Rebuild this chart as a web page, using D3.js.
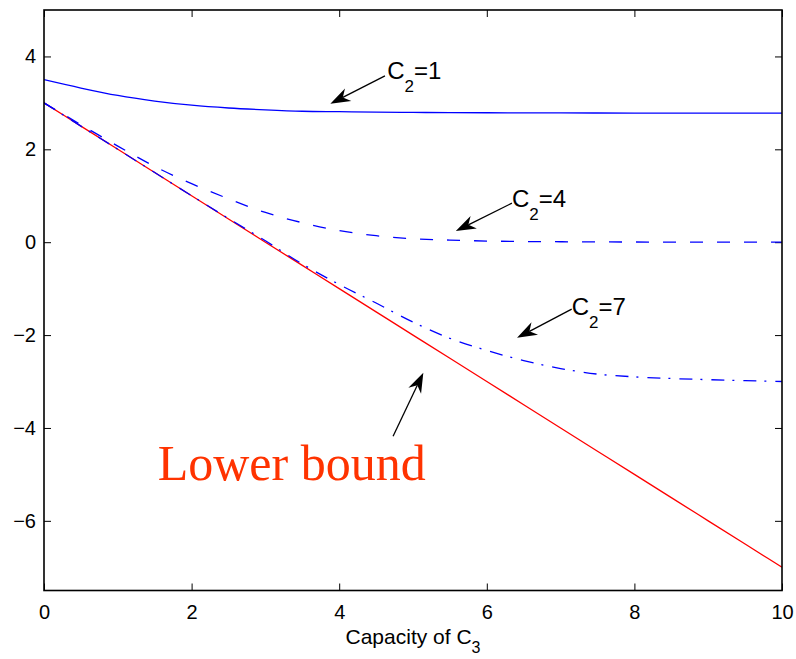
<!DOCTYPE html>
<html><head><meta charset="utf-8">
<script src="https://cdn.jsdelivr.net/npm/d3@7"></script>
<style>
body{margin:0;background:#fff;}
svg{display:block;}
</style></head>
<body>
<svg id="chart" width="796" height="659"></svg>
<script>
// ---- data ----
const xValues = [0,0.5,1,1.5,2,2.5,3,3.5,4,4.5,5,5.5,6,6.5,7,7.5,8,8.5,9,9.5,10];
const c2eq1 = [3.50,3.32,3.16,3.04,2.95,2.89,2.85,2.82,2.81,2.80,2.795,2.79,2.787,2.785,2.783,2.782,2.781,2.78,2.78,2.78,2.78];
const c2eq4 = [3.00,2.53,2.07,1.63,1.26,0.935,0.64,0.42,0.25,0.14,0.075,0.045,0.025,0.015,0.01,0.006,0.004,0.002,0.001,0.0,0.0];
const c2eq7 = [3.00,2.50,2.00,1.50,1.00,0.51,0.03,-0.47,-0.91,-1.31,-1.72,-2.07,-2.33,-2.55,-2.72,-2.84,-2.90,-2.935,-2.96,-2.98,-3.00];
const lowerBound = [3,2.5,2,1.5,1,0.5,0,-0.5,-1,-1.5,-2,-2.5,-3,-3.5,-4,-4.5,-5,-5.5,-6,-6.5,-7];
const xTicks = [0,2,4,6,8,10];
const yTicks = [-6,-4,-2,0,2,4];
const xLabel = "Capacity of C";
const xLabelSub = "3";
// annotations: text anchor (data units) and arrow from -> to
const annLabels = ["=1","=4","=7"];
const annText = [[4.65,3.52],[6.34,0.75],[7.15,-1.57]];
const annArrowFrom = [[4.62,3.58],[6.34,0.84],[7.15,-1.44]];
const annArrowTo = [[3.88,2.98],[5.58,0.24],[6.41,-2.06]];
const lbText = "Lower bound";
const lbTextPos = [1.54,-5.11];
const lbArrowFrom = [4.73,-4.18];
const lbArrowTo = [5.14,-2.81];

// ---- layout ----
const L=44, T=10, R=782, B=590.5;
const svg = d3.select("#chart");
const x = d3.scaleLinear().domain([0,10]).range([L,R]);
const y = d3.scaleLinear().domain([-7.5,5]).range([B,T]);

const tickFont = "Liberation Sans, Arial, Helvetica, sans-serif";

// axes with inward ticks
function styleAxis(g){
  g.select(".domain").remove();
  g.selectAll(".tick line").attr("stroke","#000").attr("stroke-width",1);
  g.selectAll(".tick text").attr("fill","#000").style("font-family",tickFont).style("font-size","20px");
}
const fmt = d => d<0 ? "\u2212"+Math.abs(d) : String(d);
svg.append("g").attr("transform",`translate(0,${B})`)
  .call(d3.axisBottom(x).tickValues(xTicks).tickFormat(fmt).tickSizeInner(-7).tickSizeOuter(0).tickPadding(14))
  .call(styleAxis);
svg.append("g").attr("transform",`translate(0,${T})`)
  .call(d3.axisTop(x).tickValues(xTicks).tickFormat("").tickSizeInner(-7).tickSizeOuter(0))
  .call(styleAxis);
svg.append("g").attr("transform",`translate(${L},0)`)
  .call(d3.axisLeft(y).tickValues(yTicks).tickFormat(fmt).tickSizeInner(-7).tickSizeOuter(0).tickPadding(8))
  .call(styleAxis);
svg.append("g").attr("transform",`translate(${R},0)`)
  .call(d3.axisRight(y).tickValues(yTicks).tickFormat("").tickSizeInner(-7).tickSizeOuter(0))
  .call(styleAxis);

// clip
svg.append("clipPath").attr("id","clip").append("rect").attr("x",L).attr("y",T).attr("width",R-L).attr("height",B-T);

const line = vals => d3.line().x((d,i)=>x(xValues[i])).y(d=>y(d)).curve(d3.curveMonotoneX)(vals);
const plot = svg.append("g").attr("clip-path","url(#clip)");
plot.append("path").attr("d",line(lowerBound)).attr("fill","none").attr("stroke","#ff0000").attr("stroke-width",1.3);
plot.append("path").attr("d",line(c2eq1)).attr("fill","none").attr("stroke","#0000ff").attr("stroke-width",1.3);
plot.append("path").attr("d",line(c2eq4)).attr("fill","none").attr("stroke","#0000ff").attr("stroke-width",1.3).attr("stroke-dasharray","13,14");
plot.append("path").attr("d",line(c2eq7)).attr("fill","none").attr("stroke","#0000ff").attr("stroke-width",1.3).attr("stroke-dasharray","13,8,2,9");

// box
svg.append("rect").attr("x",L).attr("y",T).attr("width",R-L).attr("height",B-T)
  .attr("fill","none").attr("stroke","#000").attr("stroke-width",1.6);

// x label
const xl = svg.append("text").attr("x",(L+R)/2).attr("y",644).attr("text-anchor","middle")
  .style("font-family",tickFont).style("font-size","21px").attr("fill","#000");
xl.append("tspan").text(xLabel);
xl.append("tspan").attr("dy",9).style("font-size","16px").text(xLabelSub);

// arrows
function arrow(from,to){
  const x1=x(from[0]), y1=y(from[1]), x2=x(to[0]), y2=y(to[1]);
  const dx=x2-x1, dy=y2-y1, len=Math.hypot(dx,dy);
  const ux=dx/len, uy=dy/len, px=-uy, py=ux;
  const hl=20, hw=7, notch=14;
  svg.append("line").attr("x1",x1).attr("y1",y1).attr("x2",x2-ux*notch).attr("y2",y2-uy*notch)
    .attr("stroke","#000").attr("stroke-width",1.3);
  const pts=[[x2,y2],[x2-ux*hl+px*hw,y2-uy*hl+py*hw],[x2-ux*notch,y2-uy*notch],[x2-ux*hl-px*hw,y2-uy*hl-py*hw]];
  svg.append("path").attr("d","M"+pts.map(p=>p.join(",")).join("L")+"Z").attr("fill","#000");
}
annLabels.forEach((lab,i)=>{
  arrow(annArrowFrom[i],annArrowTo[i]);
  const t = svg.append("text").attr("x",x(annText[i][0])).attr("y",y(annText[i][1]))
    .style("font-family",tickFont).style("font-size","24px").attr("fill","#000");
  t.append("tspan").text("C");
  t.append("tspan").attr("dy",13).style("font-size","17px").text("2");
  t.append("tspan").attr("dy",-13).text(lab);
});
arrow(lbArrowFrom,lbArrowTo);
svg.append("text").attr("x",x(lbTextPos[0])).attr("y",y(lbTextPos[1]))
  .style("font-family","Liberation Serif, Times New Roman, serif").style("font-size","50px")
  .attr("fill","#ff3300").text(lbText);
</script>
</body></html>
